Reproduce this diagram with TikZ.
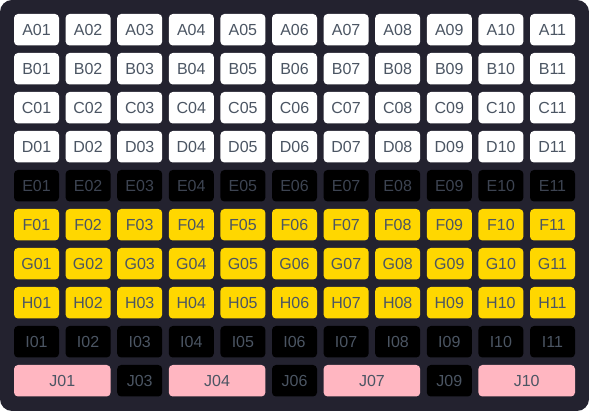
\documentclass[tikz,border=0pt]{standalone}
\usepackage{fontspec}
\setmainfont{Liberation Sans}

\definecolor{panelbg}{HTML}{23222F}
\definecolor{seatfree}{HTML}{FFFFFF}
\definecolor{seatgold}{HTML}{FFD700}
\definecolor{seatblock}{HTML}{000000}
\definecolor{seatpink}{HTML}{FFB6C1}
\definecolor{labellight}{HTML}{4B5563}
\definecolor{labeldark}{HTML}{3D4452}

\begin{document}
\begin{tikzpicture}[x=1pt,y=-1pt,
  seat/.style={rounded corners=4pt, minimum width=45pt, minimum height=31.5pt,
    inner sep=0pt, font=\fontsize{16}{16}\selectfont, text=labellight},
  wideseat/.style={seat, minimum width=96.6pt}]

%------------------------------------------------
% Panel
%------------------------------------------------

\fill[panelbg, rounded corners=12pt] (0,0) rectangle (589,411);
\useasboundingbox (0,0) rectangle (589,411);

%------------------------------------------------
% Rows A to I
%------------------------------------------------

\foreach \row/\fillc/\textc [count=\i from 0] in {A/seatfree/labellight, B/seatfree/labellight,
    C/seatfree/labellight, D/seatfree/labellight, E/seatblock/labeldark,
    F/seatgold/labellight, G/seatgold/labellight, H/seatgold/labellight,
    I/seatblock/labellight}
  \foreach \col [count=\k from 0] in {01,02,03,04,05,06,07,08,09,10,11}
    \node[seat, fill=\fillc, text=\textc] (\row\col) at (36.5+\k*51.6, 29.75+\i*39) {\row\col};

%------------------------------------------------
% Row J
%------------------------------------------------

\node[wideseat, fill=seatpink] (J01) at ( 62.3,380.75) {J01};
\node[seat, fill=seatblock]    (J03) at (139.7,380.75) {J03};
\node[wideseat, fill=seatpink] (J04) at (217.1,380.75) {J04};
\node[seat, fill=seatblock]    (J06) at (294.5,380.75) {J06};
\node[wideseat, fill=seatpink] (J07) at (371.9,380.75) {J07};
\node[seat, fill=seatblock]    (J09) at (449.3,380.75) {J09};
\node[wideseat, fill=seatpink] (J10) at (526.7,380.75) {J10};

\end{tikzpicture}
\end{document}
